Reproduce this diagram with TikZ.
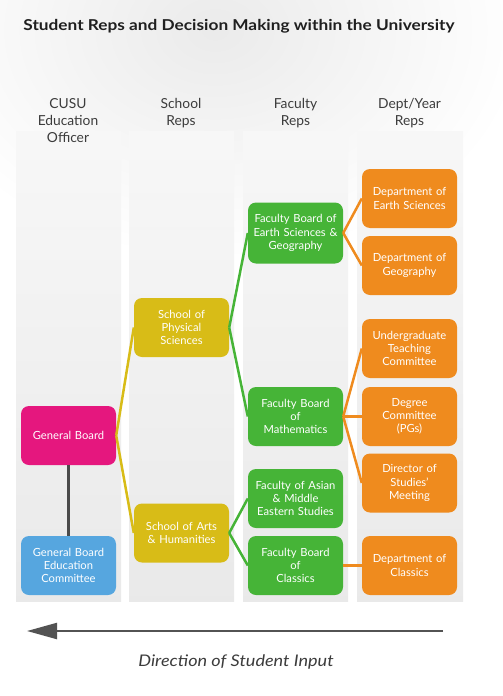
\documentclass[tikz,border=0pt]{standalone}
\usepackage{fontspec}
\setmainfont{Lato}
\usetikzlibrary{arrows.meta}
\definecolor{cmag}{HTML}{E5177E}
\definecolor{cblue}{HTML}{56A6DF}
\definecolor{cyel}{HTML}{D8BC17}
\definecolor{cgreen}{HTML}{46B437}
\definecolor{corange}{HTML}{EF8B1E}
\definecolor{cdark}{HTML}{4A4A4A}
\definecolor{ctext}{HTML}{3C3C3C}
\begin{document}
\begin{tikzpicture}[x=1pt,y=-1pt,
  box/.style={rounded corners=8pt,minimum width=95pt,minimum height=59pt,inner sep=0pt,
    text width=94pt,align=center,text=white,font=\fontsize{11.2}{13.3}\selectfont},
  panel/.style={top color=gray!6,bottom color=gray!17,draw=none},
  hdr/.style={align=center,text=ctext,font=\fontsize{13.8}{17}\selectfont,anchor=north},
  conn/.style={line width=2.5pt}]
\useasboundingbox (0,0) rectangle (503,696);
\fill[white] (0,0) rectangle (503,696);
\begin{scope}
\clip (0,0) rectangle (503,696);
\shade[inner color=gray!16,outer color=white] (215,30) ellipse (310 and 230);
\end{scope}
% panels
\shade[panel] (16,131) rectangle (121,601);
\shade[panel] (129,131) rectangle (234,601);
\shade[panel] (243,131) rectangle (348,601);
\shade[panel] (357,131) rectangle (463,601);
% title
\node[font=\bfseries\fontsize{15}{18}\selectfont,text=black!88] (title) at (239,26) {\scalebox{1.15}[1]{Student Reps and Decision Making within the University}};
% headers
\node[hdr] (h1) at (68,95) {CUSU\\Education\\Officer};
\node[hdr] (h2) at (181,95) {School\\Reps};
\node[hdr] (h3) at (295.5,95) {Faculty\\Reps};
\node[hdr] (h4) at (409.5,95) {Dept/Year\\Reps};
% nodes
\node[box,fill=cmag] (gb) at (68.5,435.5) {General Board};
\node[box,fill=cblue] (gbec) at (68.5,565.5) {General Board\\Education\\Committee};
\node[box,fill=cyel] (sps) at (181.5,327.5) {School of\\Physical\\Sciences};
\node[box,fill=cyel] (sah) at (181.5,533) {School of Arts\\\& Humanities};
\node[box,fill=cgreen,minimum height=61pt] (fesg) at (295.5,233) {Faculty Board of\\Earth Sciences \&\\Geography};
\node[box,fill=cgreen] (fmath) at (295.5,416.5) {Faculty Board\\of\\Mathematics};
\node[box,fill=cgreen] (fames) at (295.5,498.5) {Faculty of Asian\\\& Middle\\Eastern Studies};
\node[box,fill=cgreen] (fcl) at (295.5,565.5) {Faculty Board\\of\\Classics};
\node[box,fill=corange] (des) at (409.5,198.5) {Department of\\Earth Sciences};
\node[box,fill=corange] (dgeo) at (409.5,265.5) {Department of\\Geography};
\node[box,fill=corange] (utc) at (409.5,348.5) {Undergraduate\\Teaching\\Committee};
\node[box,fill=corange] (dc) at (409.5,416.5) {Degree\\Committee\\(PGs)};
\node[box,fill=corange] (dsm) at (409.5,483) {Director of\\Studies'\\Meeting};
\node[box,fill=corange] (dcl) at (409.5,565.5) {Department of\\Classics};
% connectors
\draw[line width=3pt,cdark] (gb.south) -- (gbec.north);
\draw[conn,cyel] (gb.east) -- (sps.west);
\draw[conn,cyel] (gb.east) -- (sah.west);
\draw[conn,cgreen] (sps.east) -- (fesg.west);
\draw[conn,cgreen] (sps.east) -- (fmath.west);
\draw[conn,cgreen] (sah.east) -- (fames.west);
\draw[conn,cgreen] (sah.east) -- (fcl.west);
\draw[conn,corange] (fesg.east) -- (des.west);
\draw[conn,corange] (fesg.east) -- (dgeo.west);
\draw[conn,corange] (fmath.east) -- (utc.west);
\draw[conn,corange] (fmath.east) -- (dc.west);
\draw[conn,corange] (fmath.east) -- (dsm.west);
\draw[conn,corange] (fcl.east) -- (dcl.west);
% direction arrow
\coordinate (ar) at (443,631);
\coordinate (al) at (27,631);
\draw[line width=2.2pt,draw=cdark!95,-{Triangle[length=30pt,width=16pt]}] (ar) -- (al);
\node[font=\itshape\fontsize{16}{19}\selectfont,text=ctext] (dir) at (236,662) {\scalebox{1.13}[1]{Direction of Student Input}};
\end{tikzpicture}
\end{document}
